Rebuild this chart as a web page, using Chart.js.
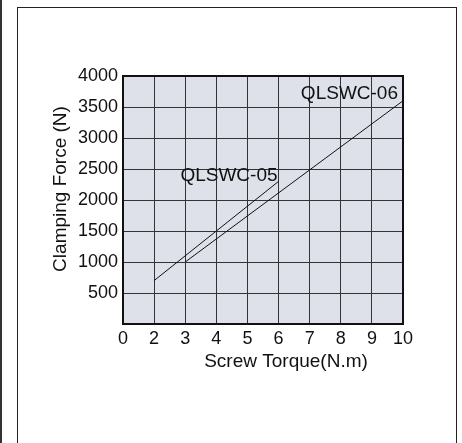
<!DOCTYPE html>
<html>
<head>
<meta charset="utf-8">
<script src="https://cdn.jsdelivr.net/npm/chart.js@4/dist/chart.umd.min.js"></script>
<style>
  html, body { margin: 0; padding: 0; background: #fff; }
  #wrap { position: relative; width: 462px; height: 443px; overflow: hidden; }
  #edge { position: absolute; left: 0; top: 0; width: 2px; height: 443px; background: #333; }
  #frame { position: absolute; left: 17px; top: 7px; width: 438px; height: 460px; border: 1px solid #222; }
  canvas { position: absolute; left: 0; top: 0; }
</style>
</head>
<body>
<div id="wrap">
  <div id="edge"></div>
  <div id="frame"></div>
  <canvas id="c" width="462" height="443"></canvas>
</div>
<script>
// Screw torque (N.m) vs clamping force (N)
const torque05 = [2, 6];
const force05 = [700, 2300];
const torque06 = [3, 10];
const force06 = [1000, 3600];
const seriesNames = ['QLSWC-05', 'QLSWC-06'];
// The first grid column is labelled 0 although it sits one step before 2
const xTickLabels = { 1: '0', 2: '2', 3: '3', 4: '4', 5: '5', 6: '6', 7: '7', 8: '8', 9: '9', 10: '10' };
const yTickValues = [500, 1000, 1500, 2000, 2500, 3000, 3500, 4000];
const xTitle = 'Screw Torque(N.m)';
const yTitle = 'Clamping Force (N)';

const FONT = 'Liberation Sans, Arial, sans-serif';

const toPoints = (xs, ys) => xs.map((x, i) => ({ x, y: ys[i] }));

const plotDecor = {
  id: 'plotDecor',
  beforeDraw(chart) {
    const { ctx, chartArea: a } = chart;
    ctx.save();
    ctx.fillStyle = '#dfe1ea';
    ctx.fillRect(a.left, a.top, a.right - a.left, a.bottom - a.top);
    ctx.restore();
  },
  afterDraw(chart) {
    const { ctx, chartArea: a, scales } = chart;
    ctx.save();
    // plot border
    ctx.strokeStyle = '#111';
    ctx.lineWidth = 2;
    ctx.strokeRect(a.left, a.top, a.right - a.left, a.bottom - a.top);
    // series labels
    ctx.fillStyle = '#111';
    ctx.font = '19px ' + FONT;
    ctx.textBaseline = 'middle';
    ctx.textAlign = 'right';
    ctx.fillText(seriesNames[0], scales.x.getPixelForValue(6) - 1, scales.y.getPixelForValue(2390));
    ctx.fillText(seriesNames[1], scales.x.getPixelForValue(10) - 5, scales.y.getPixelForValue(3710));
    // axis titles
    ctx.textAlign = 'center';
    ctx.fillText(xTitle, 286, 362);
    ctx.translate(61, 189);
    ctx.rotate(-Math.PI / 2);
    ctx.fillText(yTitle, 0, 0);
    ctx.restore();
  }
};

new Chart(document.getElementById('c'), {
  type: 'scatter',
  data: {
    datasets: [
      { label: seriesNames[0], data: toPoints(torque05, force05), showLine: true },
      { label: seriesNames[1], data: toPoints(torque06, force06), showLine: true }
    ].map(d => Object.assign(d, {
      borderColor: '#111', borderWidth: 1, pointRadius: 0, fill: false, tension: 0
    }))
  },
  options: {
    responsive: false,
    animation: false,
    devicePixelRatio: 1,
    layout: { padding: { left: 0, top: 76, right: 59, bottom: 0 } },
    plugins: { legend: { display: false }, tooltip: { enabled: false } },
    scales: {
      x: {
        type: 'linear', min: 1, max: 10,
        afterFit(s) { s.height = 119; },
        afterBuildTicks(s) { s.ticks = Object.keys(xTickLabels).map(v => ({ value: +v })); },
        ticks: {
          color: '#111', font: { family: FONT, size: 18 }, padding: 4, maxRotation: 0,
          callback: v => xTickLabels[v]
        },
        grid: { color: '#333', lineWidth: 1, drawTicks: false },
        border: { display: false }
      },
      y: {
        type: 'linear', min: 0, max: 4000,
        afterFit(s) { s.width = 123; },
        afterBuildTicks(s) { s.ticks = [0].concat(yTickValues).map(v => ({ value: v })); },
        ticks: {
          color: '#111', font: { family: FONT, size: 18 }, padding: 5,
          callback: v => (v === 0 ? '' : String(v))
        },
        grid: { color: '#333', lineWidth: 1, drawTicks: false },
        border: { display: false }
      }
    }
  },
  plugins: [plotDecor]
});
</script>
</body>
</html>
